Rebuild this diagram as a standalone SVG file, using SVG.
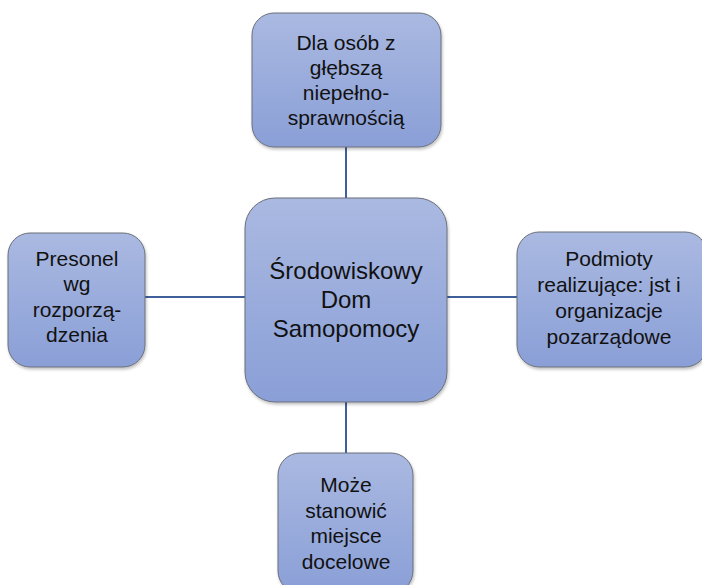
<svg xmlns="http://www.w3.org/2000/svg" width="702" height="585" viewBox="0 0 702 585">
<defs>
<linearGradient id="g" x1="0" y1="0" x2="0" y2="1">
<stop offset="0" stop-color="#AAB9E1"/>
<stop offset="1" stop-color="#8A9FD7"/>
</linearGradient>
<filter id="sh" x="-10%" y="-10%" width="120%" height="120%">
<feDropShadow dx="1" dy="2" stdDeviation="1.5" flood-color="#000" flood-opacity="0.25"/>
</filter>
</defs>
<style>
.box{fill:url(#g);stroke:#6A6E78;stroke-width:1;filter:url(#sh)}
.t{font-family:"Liberation Sans",Arial,sans-serif;font-size:21px;fill:#111;text-anchor:middle}
.c{font-size:24px}
.ln{stroke:#3E5F9A;stroke-width:2;fill:none}
</style>
<rect width="702" height="585" fill="#fff"/>
<g id="connectors">
<line class="ln" x1="346" y1="147" x2="346" y2="198"/>
<line class="ln" x1="346" y1="402" x2="346" y2="453"/>
<line class="ln" x1="145" y1="297" x2="245" y2="297"/>
<line class="ln" x1="447" y1="297" x2="517" y2="297"/>
</g>
<g id="center">
<rect class="box" x="245" y="198" width="202" height="204" rx="30"/>
<text class="t c" x="346" y="279">Środowiskowy</text>
<text class="t c" x="346" y="308">Dom</text>
<text class="t c" x="346" y="337">Samopomocy</text>
</g>
<g id="top">
<rect class="box" x="252" y="13" width="189" height="134" rx="22"/>
<text class="t" x="346" y="50">Dla osób z</text>
<text class="t" x="346" y="75">głębszą</text>
<text class="t" x="346" y="100">niepełno-</text>
<text class="t" x="346" y="125">sprawnością</text>
</g>
<g id="left">
<rect class="box" x="8" y="233" width="137" height="134" rx="22"/>
<text class="t" x="77" y="266">Presonel</text>
<text class="t" x="77" y="291">wg</text>
<text class="t" x="77" y="317">rozporzą-</text>
<text class="t" x="77" y="342">dzenia</text>
</g>
<g id="right">
<rect class="box" x="517" y="232" width="190" height="135" rx="22"/>
<text class="t" x="609" y="266">Podmioty</text>
<text class="t" x="609" y="292">realizujące: jst i</text>
<text class="t" x="609" y="318">organizacje</text>
<text class="t" x="609" y="344">pozarządowe</text>
</g>
<g id="bottom">
<rect class="box" x="278" y="453" width="135" height="140" rx="22"/>
<text class="t" x="346" y="492">Może</text>
<text class="t" x="346" y="518">stanowić</text>
<text class="t" x="346" y="543">miejsce</text>
<text class="t" x="346" y="569">docelowe</text>
</g>
</svg>
